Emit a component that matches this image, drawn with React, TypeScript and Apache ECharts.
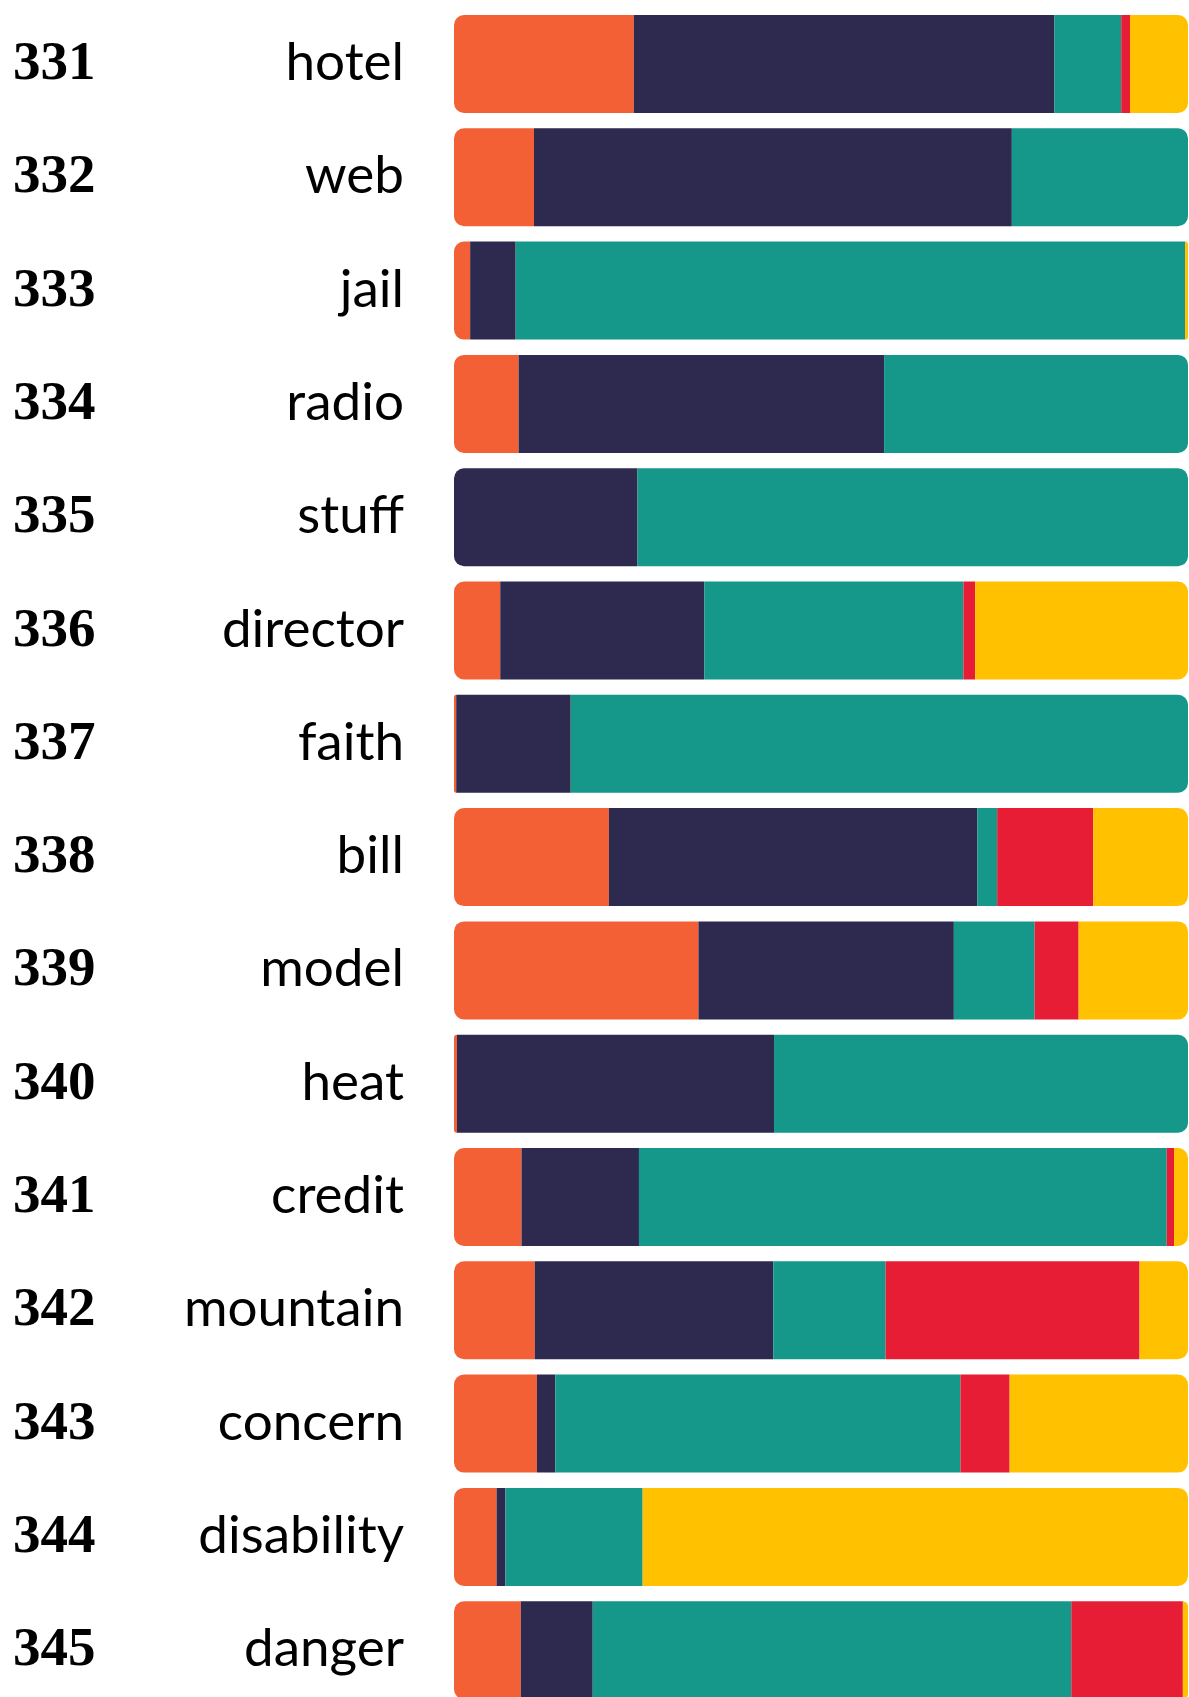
import React, { useEffect, useRef } from "react";
import * as echarts from "echarts";

const ids = ["331", "332", "333", "334", "335", "336", "337", "338", "339", "340", "341", "342", "343", "344", "345"];
const words = ["hotel", "web", "jail", "radio", "stuff", "director", "faith", "bill", "model", "heat", "credit", "mountain", "concern", "disability", "danger"];

const seriesOrange = [24.5, 10.9, 2.2, 8.8, 0, 6.3, 0.3, 21.1, 33.3, 0.4, 9.2, 11.0, 11.3, 5.8, 9.1];
const seriesNavy = [57.3, 65.1, 6.2, 49.8, 25.0, 27.8, 15.6, 50.2, 34.8, 43.2, 16.0, 32.5, 2.5, 1.2, 9.8];
const seriesTeal = [9.1, 24.0, 91.2, 41.4, 75.0, 35.3, 84.1, 2.7, 11.0, 56.4, 71.9, 15.3, 55.2, 18.7, 65.2];
const seriesRed = [1.2, 0, 0, 0, 0, 1.6, 0, 13.1, 6.0, 0, 1.0, 34.6, 6.7, 0, 15.2];
const seriesYellow = [7.9, 0, 0.4, 0, 0, 29.0, 0, 12.9, 14.9, 0, 1.9, 6.6, 24.3, 74.3, 0.7];

const allSeries = [seriesOrange, seriesNavy, seriesTeal, seriesRed, seriesYellow];
const colors = ["#F46036", "#2E294E", "#15988A", "#E71D36", "#FFC100"];

export default function App() {
  const ref = useRef<HTMLDivElement>(null);
  useEffect(() => {
    document.body.style.margin = "0";
    if (!ref.current) return;
    const chart = echarts.init(ref.current, null, { renderer: "svg" });
    const R = 10;
    const series = allSeries.map((vals, si) => ({
      type: "bar",
      stack: "total",
      barWidth: 98,
      yAxisIndex: 0,
      data: vals.map((v, ri) => {
        let first = -1;
        let last = -1;
        for (let k = 0; k < allSeries.length; k++) {
          if (allSeries[k][ri] > 0) {
            if (first < 0) first = k;
            last = k;
          }
        }
        const tl = si === first ? R : 0;
        const tr = si === last ? R : 0;
        return {
          value: v,
          itemStyle: { color: colors[si], borderRadius: [tl, tr, tr, tl] },
        };
      }),
    }));
    chart.setOption({
      animation: false,
      grid: { left: 454, right: 1, top: 7.35, height: 1699.5, outerBoundsMode: "none", containLabel: false },
      xAxis: { type: "value", min: 0, max: 100, show: false },
      yAxis: [
        {
          type: "category",
          data: words,
          inverse: true,
          axisLine: { show: false },
          axisTick: { show: false },
          splitLine: { show: false },
          axisLabel: {
            margin: 50,
            align: "right",
            verticalAlign: "middle",
            fontFamily: "Lato",
            fontSize: 53,
            color: "#000",
            formatter: (v: string) => `{w|${v}}`,
            rich: { w: { fontFamily: "Lato", fontSize: 53, color: "#000", padding: [0, 0, 9, 0] } },
          },
        },
        {
          type: "category",
          data: ids,
          inverse: true,
          position: "left",
          axisLine: { show: false },
          axisTick: { show: false },
          splitLine: { show: false },
          axisLabel: {
            margin: 441,
            align: "left",
            verticalAlign: "middle",
            fontFamily: "Liberation Serif",
            fontWeight: "bold",
            fontSize: 55,
            color: "#000",
            formatter: (v: string) => `{n|${v}}`,
            rich: {
              n: {
                fontFamily: "Liberation Serif",
                fontWeight: "bold",
                fontSize: 55,
                color: "#000",
                padding: [0, 0, 7, 0],
              },
            },
          },
        },
      ],
      series,
    });
    return () => chart.dispose();
  }, []);
  return <div ref={ref} style={{ width: 1189, height: 1697, overflow: "hidden" }} />;
}
